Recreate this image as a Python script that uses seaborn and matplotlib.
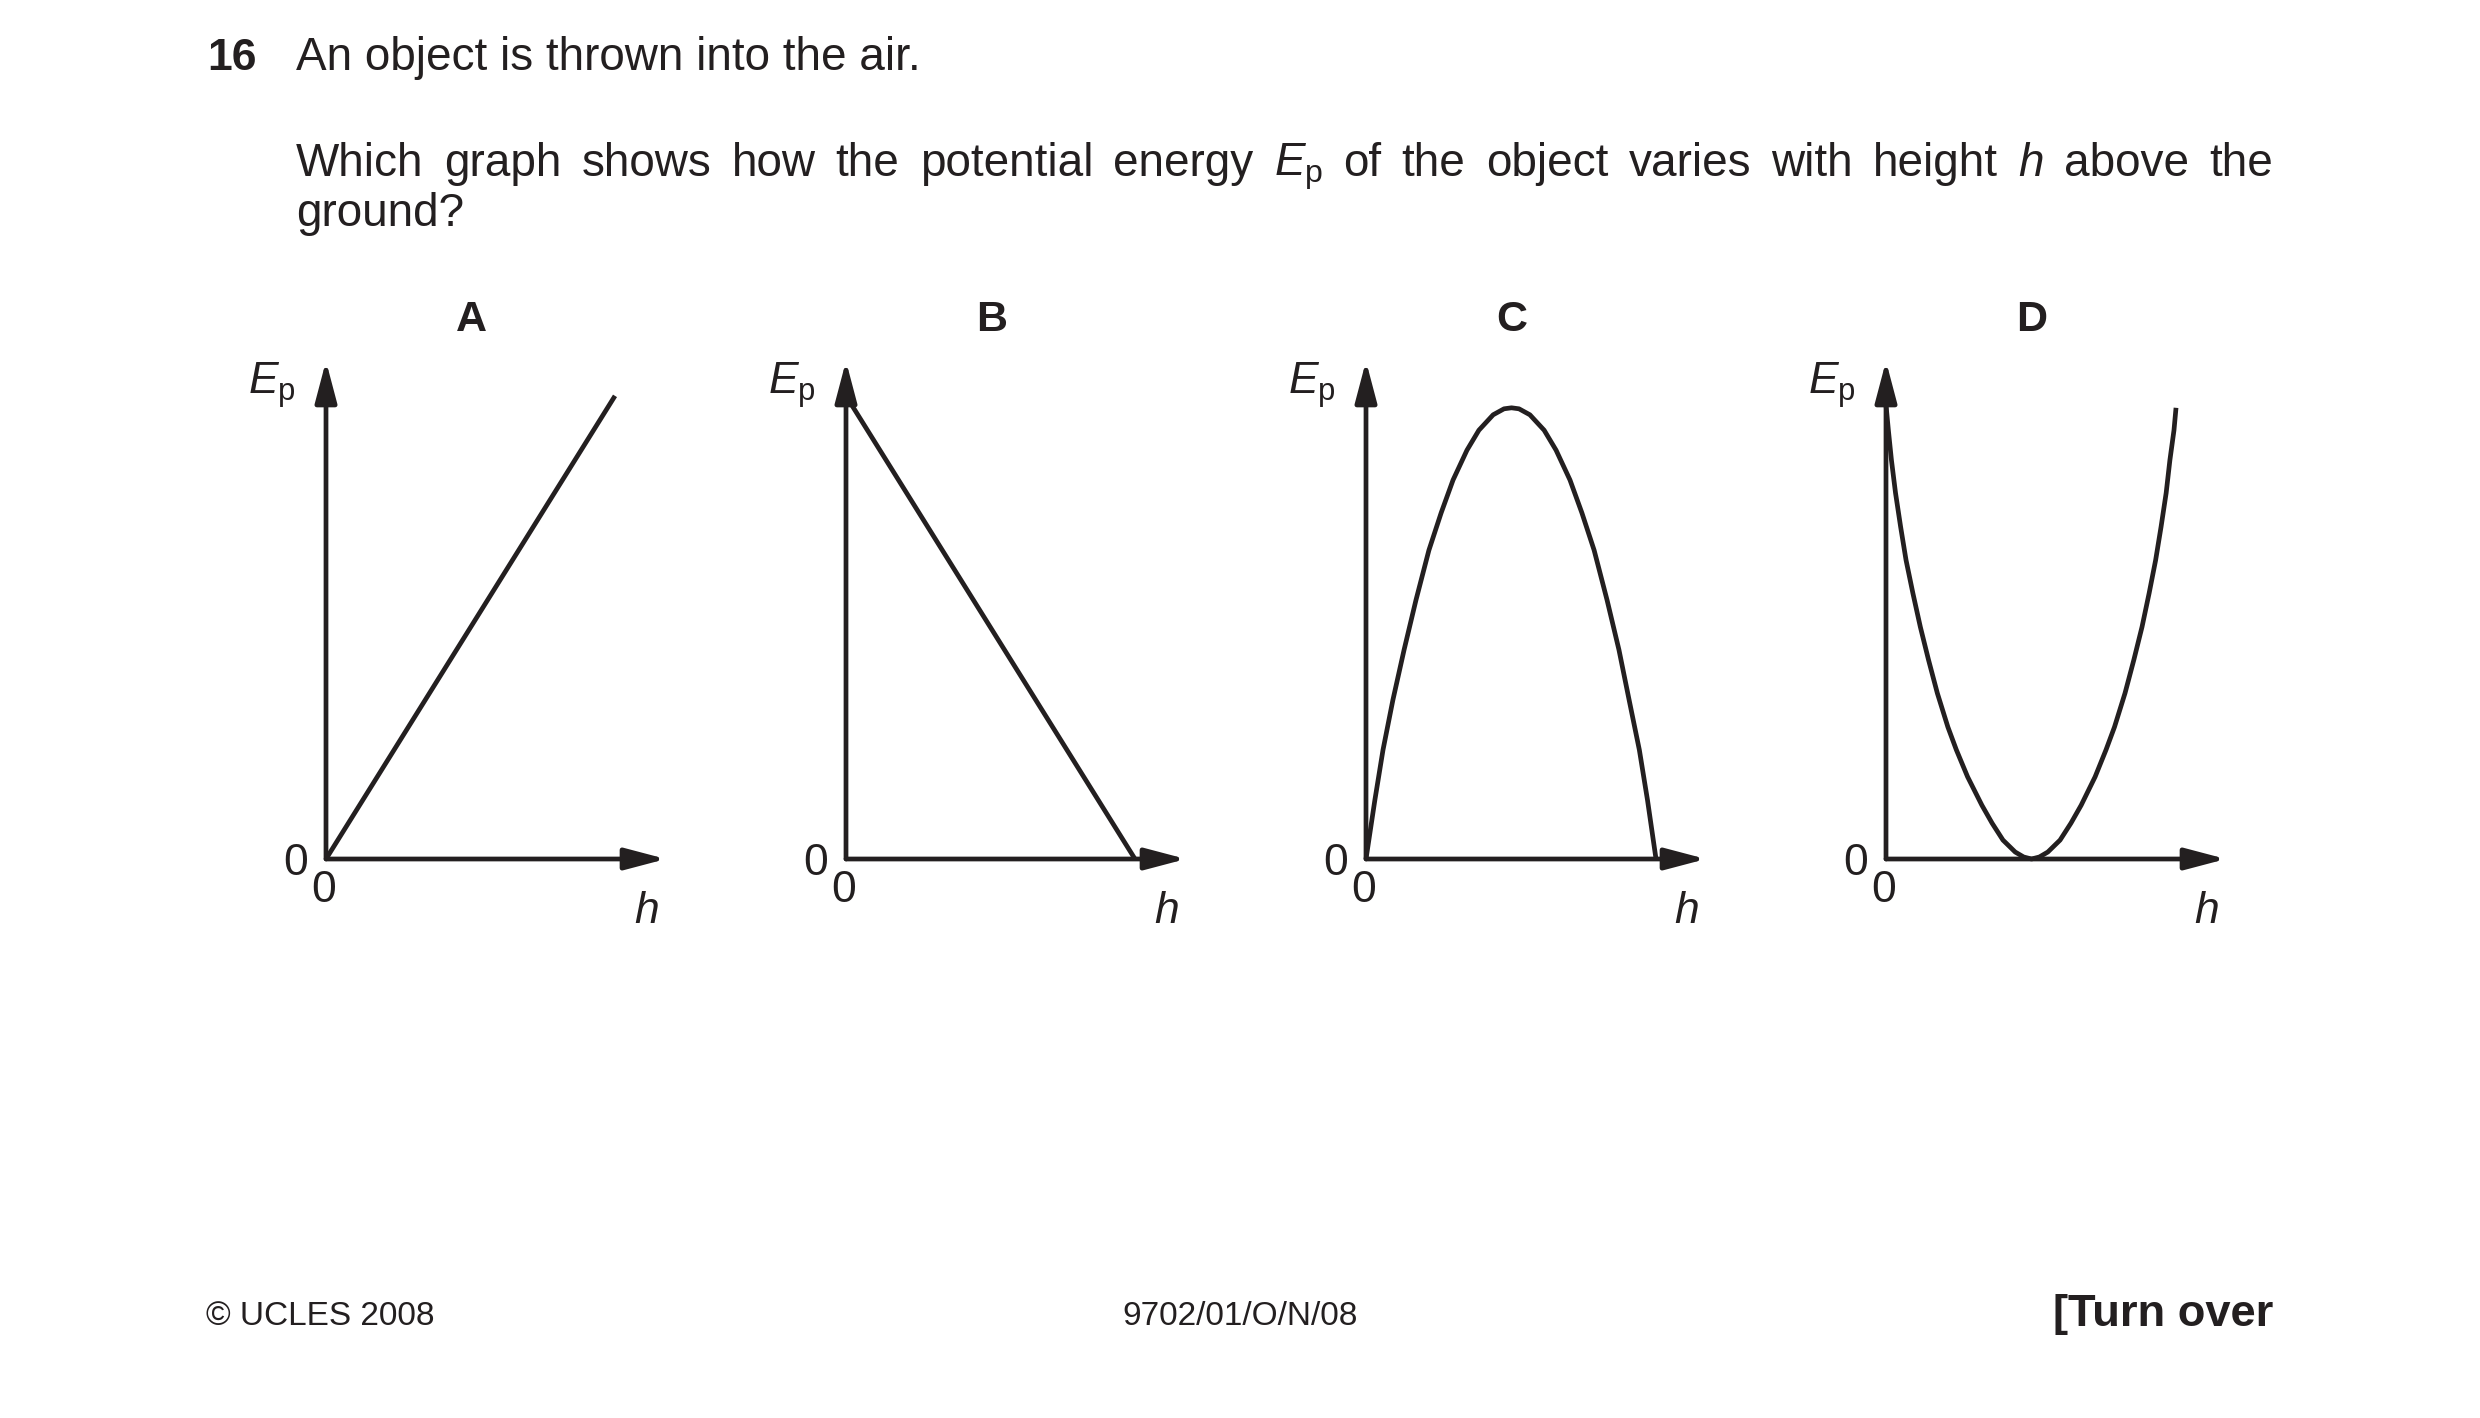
import matplotlib
matplotlib.use("Agg")
import matplotlib.pyplot as plt
import seaborn as sns

W, H = 2480, 1418
DPI = 200
INK = "#231f20"
LW = 1.7

# panel letters and the curve of each graph (h and Ep as fractions of the axis length)
panel_labels = ["A", "B", "C", "D"]

a_h = [0.0, 0.85]
a_ep = [0.0, 0.93]

b_h = [0.0, 0.85]
b_ep = [0.93, 0.0]

c_h = [0.0, 0.026, 0.050, 0.079, 0.112, 0.147, 0.185, 0.221, 0.256, 0.297, 0.332,
       0.374, 0.406, 0.428, 0.450, 0.482, 0.524, 0.559, 0.600, 0.635, 0.671, 0.709,
       0.744, 0.774, 0.804, 0.828, 0.853]
c_ep = [0.0, 0.118, 0.219, 0.319, 0.420, 0.520, 0.620, 0.695, 0.761, 0.821, 0.861,
        0.892, 0.904, 0.906, 0.904, 0.892, 0.861, 0.821, 0.761, 0.695, 0.620, 0.520,
        0.420, 0.319, 0.219, 0.118, 0.0]

d_h = [0.0, 0.007, 0.016, 0.028, 0.043, 0.059, 0.079, 0.101, 0.125, 0.151, 0.182,
       0.207, 0.240, 0.282, 0.312, 0.344, 0.380, 0.405, 0.428, 0.451, 0.476, 0.512,
       0.544, 0.574, 0.615, 0.647, 0.672, 0.703, 0.729, 0.753, 0.774, 0.793, 0.809,
       0.824, 0.835, 0.847, 0.853]
d_ep = [0.912, 0.861, 0.801, 0.735, 0.667, 0.600, 0.534, 0.466, 0.400, 0.333, 0.265,
        0.219, 0.165, 0.108, 0.072, 0.038, 0.014, 0.004, 0.0, 0.004, 0.014, 0.038,
        0.072, 0.108, 0.165, 0.219, 0.265, 0.333, 0.400, 0.466, 0.534, 0.600, 0.667,
        0.735, 0.801, 0.861, 0.906]

curves = [(a_h, a_ep), (b_h, b_ep), (c_h, c_ep), (d_h, d_ep)]

question_words = ["Which", "graph", "shows", "how", "the", "potential", "energy",
                  r"$E_{\mathrm{p}}$", "of", "the", "object", "varies", "with",
                  "height", r"$h$", "above", "the"]

sns.set_style("white")
plt.rcParams["font.family"] = ["Liberation Sans", "DejaVu Sans"]
plt.rcParams["mathtext.fontset"] = "custom"
plt.rcParams["mathtext.rm"] = "Liberation Sans"
plt.rcParams["mathtext.it"] = "Liberation Sans:italic"
plt.rcParams["mathtext.bf"] = "Liberation Sans:bold"

fig = plt.figure(figsize=(W / DPI, H / DPI), dpi=DPI)
fig.patch.set_facecolor("white")


def fx(x):
    return x / W


def fy(y):
    return 1 - y / H


BODY = 16.5

# header text
fig.text(fx(207), fy(70), "16", fontsize=16, fontweight="bold", color=INK)
fig.text(fx(296), fy(70), "An object is thrown into the air.", fontsize=BODY, color=INK)

# justified second line
renderer = fig.canvas.get_renderer()
words = [fig.text(0, fy(176), w, fontsize=BODY, color=INK) for w in question_words]
widths = [t.get_window_extent(renderer).width for t in words]
left, right = 296, 2273
gap = (right - left - sum(widths)) / (len(words) - 1)
x = left
for t, w in zip(words, widths):
    t.set_x(fx(x))
    x += w + gap
fig.text(fx(296), fy(226), "ground?", fontsize=BODY, color=INK)

# the four graphs
origins = [326, 846, 1366, 1886]
ax_w, ax_h = 340, 498
y0 = 859
arrow = dict(arrowstyle="-|>,head_length=1.25,head_width=0.33", mutation_scale=10,
             lw=LW, color=INK, shrinkA=0, shrinkB=0)

for ox, label, (hh, ep) in zip(origins, panel_labels, curves):
    ax = fig.add_axes([fx(ox), fy(y0), ax_w / W, ax_h / H])
    ax.set_xlim(0, 1)
    ax.set_ylim(0, 1)
    ax.axis("off")

    sns.lineplot(x=hh, y=ep, ax=ax, color=INK, linewidth=LW, sort=False,
                 estimator=None, legend=False)
    for ln in ax.lines:
        ln.set_clip_on(False)
        ln.set_solid_capstyle("butt")
        ln.set_solid_joinstyle("round")

    ax.annotate("", xy=(1, 0), xytext=(0, 0), arrowprops=arrow, annotation_clip=False)
    ax.annotate("", xy=(0, 1), xytext=(0, 0), arrowprops=arrow, annotation_clip=False)

    ax.text(0.428, 1.060, label, fontsize=15.5, fontweight="bold", color=INK,
            ha="center", va="baseline")
    ax.text(-0.088, 0.934, r"$E_{\mathrm{p}}$", fontsize=16, color=INK,
            ha="right", va="baseline")
    ax.text(-0.0897, -0.032, "0", fontsize=16, color=INK, ha="center", va="baseline")
    ax.text(-0.006, -0.0863, "0", fontsize=16, color=INK, ha="center", va="baseline")
    ax.text(0.941, -0.1295, r"$h$", fontsize=16, color=INK, ha="center", va="baseline")

# footer
fig.text(fx(206), fy(1325), "© UCLES 2008", fontsize=12, color=INK)
fig.text(fx(1240), fy(1325), "9702/01/O/N/08", fontsize=12, color=INK, ha="center")
fig.text(fx(2273), fy(1326), "[Turn over", fontsize=16.3, fontweight="bold", color=INK,
         ha="right")

fig.savefig("out.png", dpi=DPI, facecolor="white")
